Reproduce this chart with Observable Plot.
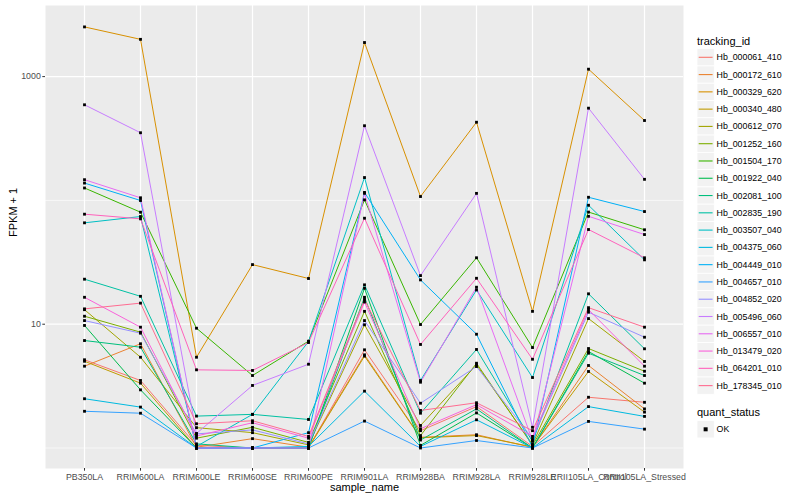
<!DOCTYPE html>
<html><head><meta charset="utf-8">
<script src="https://cdn.jsdelivr.net/npm/d3@7"></script>
<script src="https://cdn.jsdelivr.net/npm/@observablehq/plot@0.6"></script>
<style>
body{margin:0;background:#fff;font-family:"Liberation Sans",Arial,Helvetica,sans-serif;}
#wrap{position:relative;width:800px;height:500px;overflow:hidden;}
#wrap svg.legend{position:absolute;left:0;top:0;}
</style></head>
<body><div id="wrap"></div>
<script>
const samples = ["PB350LA","RRIM600LA","RRIM600LE","RRIM600SE","RRIM600PE","RRIM901LA","RRIM928BA","RRIM928LA","RRIM928LE","RRII105LA_Control","RRII105LA_Stressed"];
const ids = ["Hb_000061_410","Hb_000172_610","Hb_000329_620","Hb_000340_480","Hb_000612_070","Hb_001252_160","Hb_001504_170","Hb_001922_040","Hb_002081_100","Hb_002835_190","Hb_003507_040","Hb_004375_060","Hb_004449_010","Hb_004657_010","Hb_004852_020","Hb_005496_060","Hb_006557_010","Hb_013479_020","Hb_064201_010","Hb_178345_010"];
const colors = ["#F8766D","#EA8331","#D89000","#C09B00","#A3A500","#7CAE00","#39B600","#00BB4E","#00BF7D","#00C1A3","#00BFC4","#00BAE0","#00B0F6","#35A2FF","#9590FF","#C77CFF","#E76BF3","#FA62DB","#FF62BC","#FF6C91"];
const quantStatus = ["OK"];
const yTicks = [10, 1000];
const yMinor = [1, 100];

// FPKM + 1 per sample, in the order of `samples`
const hb_000061_410 = [5.16, 3.51, 1.05, 1.0, 1.0, 6.21, 1.38, 2.16, 1.03, 2.57, 2.34];
const hb_000172_610 = [4.58, 6.95, 1.015, 1.19, 1.015, 5.66, 1.22, 1.28, 1.01, 4.64, 2.07];
const hb_000329_620 = [2520, 2000, 5.41, 30.3, 23.4, 1885, 107.5, 428, 12.7, 1148, 442];
const hb_000340_480 = [5.02, 3.34, 1.0, 1.0, 1.0, 5.52, 1.21, 1.26, 1.02, 4.15, 1.95];
const hb_000612_070 = [13.1, 5.41, 1.46, 1.33, 1.06, 9.89, 1.52, 4.70, 1.07, 11.1, 5.00];
const hb_001252_160 = [11.6, 8.62, 1.20, 1.47, 1.11, 12.7, 1.26, 4.84, 1.05, 6.36, 4.17];
const hb_001504_170 = [126, 80.3, 9.28, 3.85, 7.29, 101, 9.94, 34.4, 6.48, 80.5, 57.9];
const hb_001922_040 = [9.77, 2.95, 1.0, 1.0, 1.0, 19.5, 1.05, 1.92, 1.0, 6.02, 3.34];
const hb_002081_100 = [7.38, 6.52, 1.08, 1.0, 1.0, 16.5, 1.16, 2.07, 1.0, 5.83, 3.85];
const hb_002835_190 = [23.1, 16.8, 1.81, 1.87, 1.70, 20.8, 1.91, 6.25, 1.13, 17.6, 6.33];
const hb_003507_040 = [65.9, 74.1, 1.03, 1.87, 7.25, 153, 3.51, 18.9, 3.71, 91.4, 33.1];
const hb_004375_060 = [2.50, 2.14, 1.0, 1.0, 1.03, 2.88, 1.03, 1.69, 1.0, 2.16, 1.80];
const hb_004449_010 = [138, 99.8, 1.0, 1.0, 1.33, 116, 22.8, 8.30, 1.015, 106, 81.3];
const hb_004657_010 = [1.98, 1.91, 1.0, 1.0, 1.0, 1.65, 1.0, 1.15, 1.0, 1.64, 1.42];
const hb_004852_020 = [10.7, 8.46, 1.30, 1.40, 1.08, 10.7, 2.30, 4.55, 1.19, 12.5, 7.85];
const hb_005496_060 = [592, 352, 1.31, 3.20, 4.75, 401, 24.7, 114, 1.47, 556, 148];
const hb_006557_010 = [147, 105, 1.0, 1.0, 1.0, 114, 3.40, 19.9, 1.15, 74.4, 53.0];
const hb_013479_020 = [16.5, 9.46, 1.25, 1.60, 1.20, 15.1, 1.43, 2.24, 1.24, 13.1, 4.58];
const hb_064201_010 = [77.4, 71.0, 4.28, 4.23, 7.11, 71.8, 6.86, 23.5, 5.21, 58.2, 34.4];
const hb_178345_010 = [13.3, 14.8, 1.57, 1.66, 1.24, 15.8, 2.01, 2.32, 1.38, 13.6, 9.46];

const seriesValues = [hb_000061_410, hb_000172_610, hb_000329_620, hb_000340_480, hb_000612_070,
  hb_001252_160, hb_001504_170, hb_001922_040, hb_002081_100, hb_002835_190, hb_003507_040,
  hb_004375_060, hb_004449_010, hb_004657_010, hb_004852_020, hb_005496_060, hb_006557_010,
  hb_013479_020, hb_064201_010, hb_178345_010];

const rows = [];
ids.forEach((id, i) => seriesValues[i].forEach((v, j) =>
  rows.push({id, sample: samples[j], value: v, status: quantStatus[0]})));

const font = '"Liberation Sans", Arial, Helvetica, sans-serif';
const chart = Plot.plot({
  width: 800, height: 500,
  marginLeft: 45, marginRight: 117, marginTop: 5, marginBottom: 32,
  style: {fontFamily: font, background: "white", color: "black"},
  x: {type: "point", domain: samples, padding: 0.6, label: null},
  y: {type: "log", domain: [0.683, 3753], label: null},
  color: {domain: ids, range: colors},
  marks: [
    Plot.frame({fill: "#EBEBEB", stroke: "none"}),
    Plot.ruleY(yMinor, {stroke: "white", strokeWidth: 0.6}),
    Plot.ruleY(yTicks, {stroke: "white", strokeWidth: 1.2}),
    Plot.ruleX(samples, {stroke: "white", strokeWidth: 1.2}),
    Plot.line(rows, {x: "sample", y: "value", z: "id", stroke: "id", strokeWidth: 1}),
    Plot.dot(rows, {x: "sample", y: "value", symbol: "square", r: 1.6, fill: "black", stroke: "none"}),
    Plot.axisX({tickSize: 2.7, tickPadding: 2.2, fontSize: 8.8, fill: "#4D4D4D", stroke: "#333333", label: null}),
    Plot.axisY({ticks: yTicks, tickFormat: d => String(d), tickSize: 2.7, tickPadding: 2, fontSize: 8.8, fill: "#4D4D4D", stroke: "#333333", label: null}),
    Plot.text(["sample_name"], {text: d => d, frameAnchor: "bottom", dy: 22, fontSize: 11, fill: "black"}),
    Plot.text(["FPKM + 1"], {text: d => d, frameAnchor: "left", dx: -32, rotate: -90, fontSize: 11, fill: "black"})
  ]
});
const wrap = document.getElementById("wrap");
wrap.appendChild(chart);

// legend on the right, drawn as an SVG overlay
const lg = d3.select(wrap).append("svg").attr("class", "legend")
  .attr("width", 800).attr("height", 500)
  .style("font-family", font);
const step = 17.28, first = 57.3, kx = 697;
lg.append("text").attr("x", kx).attr("y", 44.5).attr("font-size", 11).text("tracking_id");
const items = lg.selectAll("g.item").data(ids).join("g").attr("class", "item")
  .attr("transform", (d, i) => `translate(${kx},${first + i * step - step / 2})`);
items.append("rect").attr("width", step).attr("height", step)
  .attr("fill", "#F2F2F2").attr("stroke", "white").attr("stroke-width", 0.8);
items.append("line").attr("x1", 1.7).attr("x2", step - 1.7)
  .attr("y1", step / 2).attr("y2", step / 2)
  .attr("stroke", (d, i) => colors[i]).attr("stroke-width", 1.1);
items.append("text").attr("x", step + 2.3).attr("y", step / 2).attr("dy", "0.35em")
  .attr("font-size", 8.8).text(d => d);

lg.append("text").attr("x", kx).attr("y", 416.2).attr("font-size", 11).text("quant_status");
const q = lg.append("g").attr("transform", `translate(${kx},${429.3 - step / 2})`);
q.append("rect").attr("width", step).attr("height", step)
  .attr("fill", "#F2F2F2").attr("stroke", "white").attr("stroke-width", 0.8);
q.append("rect").attr("x", step / 2 - 2).attr("y", step / 2 - 2).attr("width", 4).attr("height", 4).attr("fill", "black");
q.append("text").attr("x", step + 2.3).attr("y", step / 2).attr("dy", "0.35em")
  .attr("font-size", 8.8).text(quantStatus[0]);
</script>
</body></html>
